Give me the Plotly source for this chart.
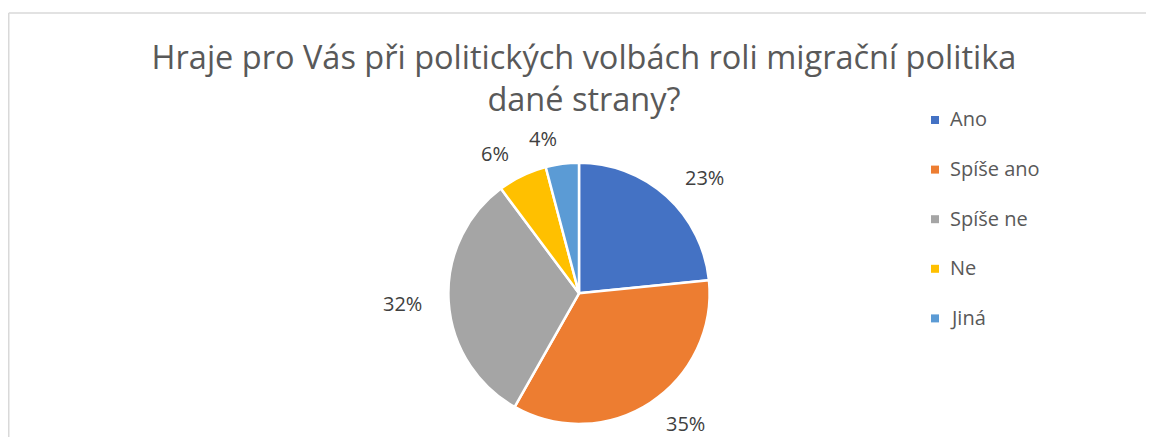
import math
import plotly.graph_objects as go

# Survey answers and their shares (percent)
labels = ['Ano', 'Spíše ano', 'Spíše ne', 'Ne', 'Jiná']
values = [23.4, 34.8, 31.6, 6.1, 4.1]
colors = ['#4472C4', '#ED7D31', '#A5A5A5', '#FFC000', '#5B9BD5']

title_text = 'Hraje pro Vás při politických volbách roli migrační politika<br>dané strany?'

W, H = 1154, 437
FONT = 'Open Sans'

# pie geometry in pixels (from top-left of the figure)
cx, cy, R = 571, 285.3, 130.6

fig = go.Figure()

fig.add_trace(go.Pie(
    labels=labels,
    values=values,
    marker=dict(colors=colors, line=dict(color='white', width=2.5)),
    sort=False,
    direction='clockwise',
    rotation=0,
    textinfo='none',
    showlegend=False,
    hoverinfo='label+percent',
    domain=dict(x=[(cx - R) / W, (cx + R) / W], y=[1 - (cy + R) / H, 1 - (cy - R) / H]),
))

annotations = []

# percent labels outside each slice, anchored on the side facing the pie
total = sum(values)
cum = 0
for v in values:
    mid = (cum + v / 2) / total * 2 * math.pi
    cum += v
    txt = f'{v / total * 100:.0f}%'
    dx, dy = math.sin(mid), -math.cos(mid)
    d = R + 25
    px, py = cx + d * dx, cy + d * dy
    annotations.append(dict(
        x=px / W, y=1 - py / H, xref='paper', yref='paper',
        text=txt, showarrow=False,
        xanchor='left' if dx > 0 else 'right', yanchor='middle',
        font=dict(family=FONT, size=20, color='#404040'),
    ))

# legend built by hand so spacing matches the original
shapes = []
for i, (lab, col) in enumerate(zip(labels, colors)):
    ly = 112 + i * 49.6
    shapes.append(dict(
        type='rect', xref='paper', yref='paper',
        x0=923 / W, x1=931 / W, y0=1 - (ly + 4) / H, y1=1 - (ly - 4) / H,
        fillcolor=col, line=dict(width=0),
    ))
    annotations.append(dict(
        x=940 / W, y=1 - (ly - 1) / H, xref='paper', yref='paper',
        text=lab, showarrow=False, xanchor='left', yanchor='middle',
        font=dict(family=FONT, size=20, color='#595959'),
    ))

# light chart-area border (top and left edges visible)
shapes += [
    dict(type='line', xref='paper', yref='paper',
         x0=0.75 / W, x1=1, y0=1 - 5 / H, y1=1 - 5 / H,
         line=dict(color='#D9D9D9', width=1.5)),
    dict(type='line', xref='paper', yref='paper',
         x0=0.75 / W, x1=0.75 / W, y0=0, y1=1 - 5 / H,
         line=dict(color='#D9D9D9', width=1.5)),
]

fig.update_layout(
    width=W, height=H,
    margin=dict(l=0, r=0, t=0, b=0),
    paper_bgcolor='white',
    plot_bgcolor='white',
    showlegend=False,
    title=dict(
        text=title_text,
        x=576 / W, xanchor='center',
        y=1 - 61 / H, yanchor='top',
        font=dict(family=FONT, size=32.5, color='#595959'),
    ),
    annotations=annotations,
    shapes=shapes,
)

fig.write_html('out.html')
